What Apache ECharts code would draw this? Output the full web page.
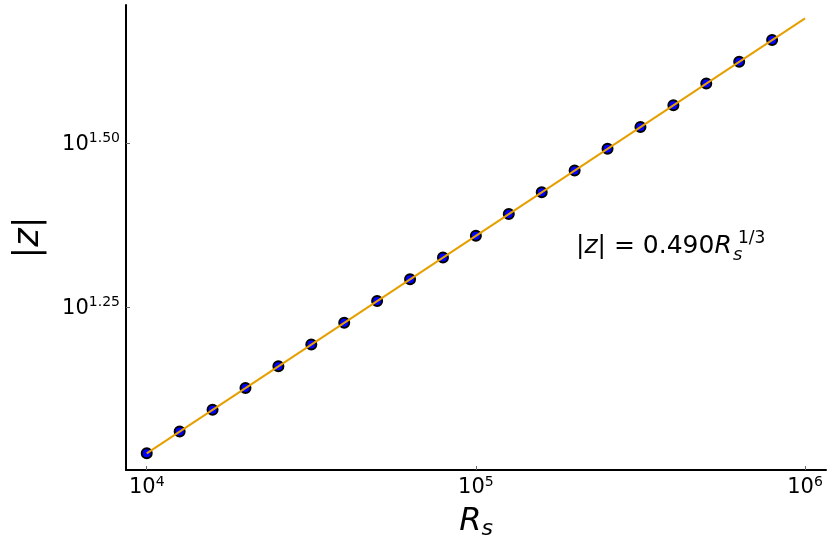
<!DOCTYPE html>
<html><head><meta charset="utf-8">
<script src="https://cdn.jsdelivr.net/npm/echarts@6/dist/echarts.min.js"></script>
<style>html,body{margin:0;padding:0;background:#fff}#c{width:830px;height:554px}</style>
</head><body><div id="c"></div>
<script>
// Data
const rsValues = [10000, 12589, 15849, 19953, 25119, 31623, 39811, 50119, 63096, 79433,
  100000, 125893, 158489, 199526, 251189, 316228, 398107, 501187, 630957, 794328];
const zValues = [10.64, 11.49, 12.40, 13.38, 14.44, 15.59, 16.83, 18.16, 19.60, 21.16,
  22.84, 24.65, 26.60, 28.71, 30.99, 33.45, 36.10, 38.96, 42.05, 45.39];
const fitRs = [10000, 1000000];
const fitZ = [10.64, 48.99];
const xTickExps = ['4', '5', '6'];
const yTickExps = ['1.25', '1.50'];

const xTickValues = xTickExps.map(e => Math.pow(10, parseFloat(e)));
const yTickValues = yTickExps.map(e => Math.pow(10, parseFloat(e)));
const FONT = 'DejaVu Sans';

function expLabel(vals, exps) {
  return function (v) {
    for (let i = 0; i < vals.length; i++) {
      if (Math.abs(Math.log10(v) - Math.log10(vals[i])) < 1e-6) return '{b|10}{s|' + exps[i] + '}';
    }
    return '';
  };
}

const chart = echarts.init(document.getElementById('c'), null, {renderer: 'canvas'});
chart.setOption({
  animation: false,
  backgroundColor: '#ffffff',
  grid: {left: 126, right: 4, top: 5, bottom: 84, containLabel: false},
  xAxis: {
    type: 'log', logBase: 10, min: 8650, max: 1158000,
    name: '{r|R}{s|s}', nameLocation: 'middle', nameGap: 34,
    nameTextStyle: {
      rich: {
        r: {fontFamily: FONT, fontStyle: 'italic', fontSize: 32, color: '#000', lineHeight: 36},
        s: {fontFamily: FONT, fontStyle: 'italic', fontSize: 22, color: '#000', lineHeight: 22, verticalAlign: 'bottom'}
      }
    },
    axisLine: {show: true, lineStyle: {color: '#000', width: 2}},
    axisTick: {show: true, inside: true, length: 4, customValues: xTickValues, lineStyle: {color: '#666', width: 1}},
    minorTick: {show: false},
    splitLine: {show: false},
    axisLabel: {
      customValues: xTickValues, margin: 5,
      formatter: expLabel(xTickValues, xTickExps),
      rich: {
        b: {fontFamily: FONT, fontSize: 21, color: '#000', lineHeight: 26},
        s: {fontFamily: FONT, fontSize: 14, color: '#000', lineHeight: 12, verticalAlign: 'top'}
      }
    }
  },
  yAxis: {
    type: 'log', logBase: 10, min: 10.035, max: 51.33,
    name: '{n||}{i|z}{n||}', nameLocation: 'middle', nameGap: 80, nameRotate: 90,
    nameTextStyle: {
      rich: {
        n: {fontFamily: FONT, fontSize: 35, color: '#000'},
        i: {fontFamily: FONT, fontStyle: 'italic', fontSize: 35, color: '#000'}
      }
    },
    axisLine: {show: true, lineStyle: {color: '#000', width: 2}},
    axisTick: {show: true, inside: true, length: 4, customValues: yTickValues, lineStyle: {color: '#666', width: 1}},
    minorTick: {show: false},
    splitLine: {show: false},
    axisLabel: {
      customValues: yTickValues, margin: 6, padding: [3, 0, 0, 0],
      formatter: expLabel(yTickValues, yTickExps),
      rich: {
        b: {fontFamily: FONT, fontSize: 21, color: '#000', lineHeight: 26},
        s: {fontFamily: FONT, fontSize: 14, color: '#000', lineHeight: 17, verticalAlign: 'top'}
      }
    }
  },
  series: [
    {
      type: 'scatter', data: rsValues.map((r, i) => [r, zValues[i]]),
      symbol: 'circle', symbolSize: 10,
      itemStyle: {color: '#0000ff', borderColor: '#000', borderWidth: 2, opacity: 1},
      z: 2
    },
    {
      type: 'line', data: fitRs.map((r, i) => [r, fitZ[i]]),
      showSymbol: false, symbol: 'none',
      lineStyle: {color: '#e69f00', width: 2},
      z: 3
    }
  ],
  graphic: [
    {type: 'text', x: 576, y: 246, z: 10, style: {
      text: '{n||}{i|z}{n|| = 0.490}{i|R}', verticalAlign: 'middle', align: 'left',
      rich: {
        n: {fontFamily: FONT, fontSize: 25, fill: '#000'},
        i: {fontFamily: FONT, fontStyle: 'italic', fontSize: 25, fill: '#000'}
      }
    }},
    {type: 'text', x: 733, y: 255, z: 10, style: {
      text: 's', verticalAlign: 'middle', align: 'left',
      font: 'italic 18px "DejaVu Sans"', fill: '#000'
    }},
    {type: 'text', x: 738, y: 239, z: 10, style: {
      text: '1/3', verticalAlign: 'middle', align: 'left',
      font: '17px "DejaVu Sans"', fill: '#000'
    }}
  ]
});
</script>
</body></html>
